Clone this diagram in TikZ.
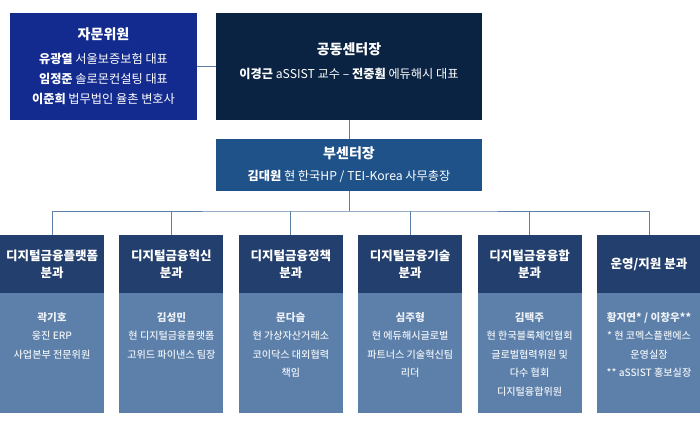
\documentclass[tikz,border=0pt]{standalone}
\usepackage{fontspec}
\setmainfont{Noto Sans CJK KR}
\newfontfamily\medfont{Noto Sans CJK KR}[UprightFont={* Medium}]
\usetikzlibrary{positioning}
\definecolor{advblue}{HTML}{132B8F}
\definecolor{ctrblue}{HTML}{0A2342}
\definecolor{viceblue}{HTML}{1F5289}
\definecolor{headblue}{HTML}{223F6E}
\definecolor{bodyblue}{HTML}{5C80AA}
\definecolor{lineblue}{HTML}{5F80A8}
\definecolor{bodytxt}{HTML}{EEF2F7}
\newcommand{\boxtitle}[1]{{\fontsize{14}{20}\selectfont\bfseries #1}}
\newcommand{\who}[1]{{\fontsize{10.6}{18.5}\selectfont\bfseries #1}}
\tikzset{
    topbox/.style={rectangle, minimum width=187pt, minimum height=107pt, inner sep=0pt, text centered, align=center, text=white, font=\fontsize{12.2}{20}\selectfont},
    headbox/.style={rectangle, minimum width=104pt, minimum height=58pt, inner sep=0pt, text centered, align=center, fill=headblue, text=white, font=\fontsize{12.5}{17}\selectfont\bfseries},
    bodybox/.style={rectangle, minimum width=104pt, minimum height=120pt, inner sep=0pt, fill=bodyblue},
    bodytext/.style={anchor=north, yshift=-19pt, inner sep=0pt, align=center, text=bodytxt, font=\medfont\fontsize{10.1}{18.5}\selectfont},
    line/.style={draw=lineblue, line width=1pt}
}
\begin{document}
\begin{tikzpicture}[x=1pt, y=-1pt, node distance=15pt]
    \useasboundingbox (0,0) rectangle (700,426);

    % Top row
    \node (adv) [topbox, fill=advblue] at (103.5,66.5)
        {\boxtitle{자문위원}\\[4pt]
         \textbf{유광열} 서울보증보험 대표\\
         \textbf{임정준} 솔로몬컨설팅 대표\\
         \textbf{이준희} 법무법인 율촌 변호사};
    \node (ctr) [topbox, fill=ctrblue, minimum width=266pt, text depth=12pt] at (349,66.5)
        {\boxtitle{공동센터장}\\[4pt]
         \textbf{이경근} aSSIST 교수 – \textbf{전중훤} 에듀해시 대표};

    % Vice director
    \node (vice) [topbox, fill=viceblue, minimum width=266pt, minimum height=52pt] at (349,165)
        {\boxtitle{부센터장}\\[2pt]
         \textbf{김대원} 현 한국HP / TEI-Korea 사무총장};

    % Divisions
    \node (head1) [headbox] at (52,264) {디지털금융플랫폼\\분과};
    \node (head2) [headbox, right=of head1] {디지털금융혁신\\분과};
    \node (head3) [headbox, right=of head2] {디지털금융정책\\분과};
    \node (head4) [headbox, right=of head3] {디지털금융기술\\분과};
    \node (head5) [headbox, right=of head4] {디지털금융융합\\분과};
    \node (head6) [headbox, right=of head5] {운영/지원 분과};

    \node (body1) [bodybox, below=0pt of head1, label={[bodytext]north:{\who{곽기호}\\웅진 ERP\\사업본부 전문위원}}] {};
    \node (body2) [bodybox, below=0pt of head2, label={[bodytext]north:{\who{김성민}\\현 디지털금융플랫폼\\고위드 파이낸스 팀장}}] {};
    \node (body3) [bodybox, below=0pt of head3, label={[bodytext]north:{\who{문다슬}\\현 가상자산거래소\\코이닥스 대외협력\\책임}}] {};
    \node (body4) [bodybox, below=0pt of head4, label={[bodytext]north:{\who{심주형}\\현 에듀해시글로벌\\파트너스 기술혁신팀\\리더}}] {};
    \node (body5) [bodybox, below=0pt of head5, label={[bodytext]north:{\who{김택주}\\현 한국블록체인협회\\글로벌협력위원 및\\다수 협회\\디지털융합위원}}] {};
    \node (body6) [bodybox, below=0pt of head6, label={[bodytext]north:{\who{황지연* / 이창우**}\\* 현 코멕스플랜에스\\운영실장\\** aSSIST 홍보실장}}] {};

    % Connectors
    \coordinate (bus) at (349,211);
    \draw [line] (adv) -- (ctr);
    \draw [line] (ctr) -- (vice);
    \draw [line] (vice) -- (bus);
    \draw [line] (head1.north) |- (bus) -| (head6.north);
    \foreach \i in {2,...,5}
        \draw [line] (head\i.north) -- (head\i.north |- bus);
\end{tikzpicture}
\end{document}
